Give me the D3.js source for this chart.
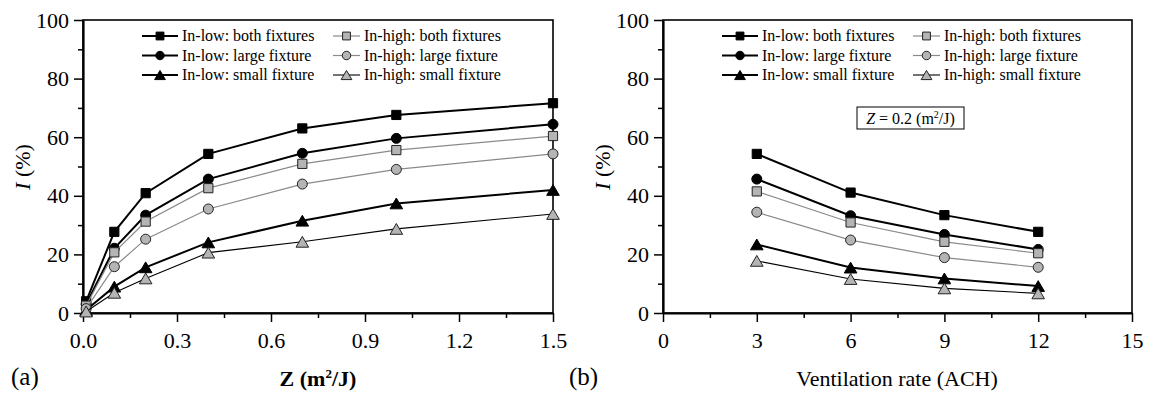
<!DOCTYPE html>
<html>
<head>
<meta charset="utf-8">
<script src="https://cdn.jsdelivr.net/npm/d3@7"></script>
<style>
  body { margin: 0; background: #fff; }
  svg { display: block; font-family: "Liberation Serif", "Times New Roman", serif; }
</style>
</head>
<body>
<script>
// panel (a): I vs Z
const zValues = [0.01, 0.1, 0.2, 0.4, 0.7, 1.0, 1.5];
const zLowBoth = [4.0, 27.7, 40.9, 54.3, 63.0, 67.6, 71.6];
const zLowLarge = [3.0, 22.1, 33.4, 45.7, 54.5, 59.6, 64.4];
const zLowSmall = [1.0, 9.0, 15.6, 24.1, 31.5, 37.4, 42.0];
const zHighBoth = [2.5, 20.7, 31.2, 42.6, 50.9, 55.6, 60.4];
const zHighLarge = [1.5, 15.8, 25.2, 35.5, 44.0, 49.0, 54.3];
const zHighSmall = [0.5, 6.9, 11.8, 20.6, 24.3, 28.7, 33.8];

// panel (b): I vs ventilation rate
const achValues = [3, 6, 9, 12];
const achLowBoth = [54.3, 41.1, 33.4, 27.7];
const achLowLarge = [45.7, 33.2, 26.8, 21.7];
const achLowSmall = [23.4, 15.5, 11.8, 9.2];
const achHighBoth = [41.5, 30.9, 24.3, 20.4];
const achHighLarge = [34.4, 24.9, 18.9, 15.6];
const achHighSmall = [17.8, 11.6, 8.4, 6.7];

const seriesNames = [
  'In-low: both fixtures', 'In-high: both fixtures',
  'In-low: large fixture', 'In-high: large fixture',
  'In-low: small fixture', 'In-high: small fixture'
];

const yTicks = [0, 20, 40, 60, 80, 100];
const yMinor = [10, 30, 50, 70, 90];
const zTicks = [0.0, 0.3, 0.6, 0.9, 1.2, 1.5];
const zMinor = [0.15, 0.45, 0.75, 1.05, 1.35];
const achTicks = [0, 3, 6, 9, 12, 15];
const achMinor = [1.5, 4.5, 7.5, 10.5, 13.5];

const GRAY_FILL = '#b4b4b4';
const GRAY_LINE = '#8a8a8a';

// style per series name
const styles = {
  'In-low: both fixtures':   { shape: 'square',   fill: '#000',    line: '#000',    lw: 2 },
  'In-low: large fixture':   { shape: 'circle',   fill: '#000',    line: '#000',    lw: 2 },
  'In-low: small fixture':   { shape: 'triangle', fill: '#000',    line: '#000',    lw: 2 },
  'In-high: both fixtures':  { shape: 'square',   fill: GRAY_FILL, line: GRAY_LINE, lw: 1.2 },
  'In-high: large fixture':  { shape: 'circle',   fill: GRAY_FILL, line: GRAY_LINE, lw: 1.2 },
  'In-high: small fixture':  { shape: 'triangle', fill: GRAY_FILL, line: '#000',    lw: 1.1 }
};

function marker(shape, k) {
  k = k || 1;
  if (shape === 'square') { const s = 4.6 * k; return `M${-s},${-s}H${s}V${s}H${-s}Z`; }
  if (shape === 'circle') { const r = 5 * k; return `M${r},0A${r},${r} 0 1,1 ${-r},0A${r},${r} 0 1,1 ${r},0Z`; }
  const w = 6.3 * k, h = 5.4 * k;
  return `M0,${-h}L${w},${h}L${-w},${h}Z`;
}

const svg = d3.select('body').append('svg')
  .attr('width', 1149)
  .attr('height', 396);

function drawPanel(p) {
  const x = d3.scaleLinear().domain(p.xDomain).range([p.left, p.right]);
  const y = d3.scaleLinear().domain([0, 100]).range([313, 20]);
  const g = svg.append('g');

  // frame
  g.append('rect')
    .attr('x', p.left).attr('y', 20)
    .attr('width', p.right - p.left).attr('height', 293)
    .attr('fill', 'none').attr('stroke', '#000').attr('stroke-width', 1.6);

  // minor ticks
  g.append('g').attr('transform', `translate(0,313)`)
    .call(d3.axisBottom(x).tickValues(p.xMinor).tickSize(5).tickFormat(''))
    .call(a => a.select('.domain').remove())
    .selectAll('line').attr('stroke-width', 1.5);
  g.append('g').attr('transform', `translate(${p.left},0)`)
    .call(d3.axisLeft(y).tickValues(yMinor).tickSize(5).tickFormat(''))
    .call(a => a.select('.domain').remove())
    .selectAll('line').attr('stroke-width', 1.5);

  // major ticks
  const xa = g.append('g').attr('transform', `translate(0,313)`)
    .call(d3.axisBottom(x).tickValues(p.xTicks).tickSize(9).tickSizeOuter(0).tickPadding(10).tickFormat(p.fmt));
  const ya = g.append('g').attr('transform', `translate(${p.left},0)`)
    .call(d3.axisLeft(y).tickValues(yTicks).tickSize(9).tickSizeOuter(0).tickPadding(5));
  [xa, ya].forEach(a => {
    a.attr('font-family', null);
    a.select('.domain').attr('stroke-width', 2.2);
    a.selectAll('line').attr('stroke-width', 1.5);
    a.selectAll('text').attr('font-size', 22).attr('fill', '#000');
  });

  // series: in-low first, in-high drawn on top
  const line = d3.line().x(d => x(d[0])).y(d => y(d[1]));
  p.series.forEach(s => {
    const st = styles[s.name];
    const pts = p.xValues.map((v, i) => [v, s.values[i]]);
    g.append('path').datum(pts)
      .attr('d', line).attr('fill', 'none')
      .attr('stroke', st.line).attr('stroke-width', st.lw);
    g.selectAll(null).data(pts).enter().append('path')
      .attr('transform', d => `translate(${x(d[0])},${y(d[1])})`)
      .attr('d', marker(st.shape))
      .attr('fill', st.fill)
      .attr('stroke', st.fill === '#000' ? '#000' : '#222')
      .attr('stroke-width', 1);
  });

  // legend (2 columns, 3 rows)
  const lg = g.append('g');
  seriesNames.forEach((name, i) => {
    const st = styles[name];
    const col = i % 2, row = Math.floor(i / 2);
    const cy = 36 + row * 19.5;
    const x0 = p.left + (col === 0 ? 59 : 250);
    const len = col === 0 ? 36 : 27;
    lg.append('line')
      .attr('x1', x0).attr('x2', x0 + len).attr('y1', cy).attr('y2', cy)
      .attr('stroke', st.line).attr('stroke-width', st.lw);
    lg.append('path')
      .attr('transform', `translate(${x0 + len / 2},${cy})`)
      .attr('d', marker(st.shape, 0.85))
      .attr('fill', st.fill)
      .attr('stroke', st.fill === '#000' ? '#000' : '#222')
      .attr('stroke-width', 1);
    lg.append('text')
      .attr('x', x0 + len + 4).attr('y', cy + 5)
      .attr('font-size', 16)
      .text(name);
  });

  // y label
  const yl = g.append('text')
    .attr('transform', `translate(${p.left - 53},167) rotate(-90)`)
    .attr('text-anchor', 'middle').attr('font-size', 22);
  yl.append('tspan').attr('font-style', 'italic').text('I');
  yl.append('tspan').text(' (%)');

  // panel tag
  g.append('text').attr('x', p.tagX).attr('y', 385).attr('font-size', 25).text(p.tag);

  return { g, x, y };
}

const pa = drawPanel({
  left: 83, right: 553, xDomain: [0, 1.5], xValues: zValues,
  xTicks: zTicks, xMinor: zMinor, fmt: d3.format('.1f'), tag: '(a)', tagX: 11,
  series: [
    { name: 'In-low: both fixtures', values: zLowBoth },
    { name: 'In-low: large fixture', values: zLowLarge },
    { name: 'In-low: small fixture', values: zLowSmall },
    { name: 'In-high: both fixtures', values: zHighBoth },
    { name: 'In-high: large fixture', values: zHighLarge },
    { name: 'In-high: small fixture', values: zHighSmall }
  ]
});

const xla = pa.g.append('text')
  .attr('x', 318).attr('y', 386).attr('text-anchor', 'middle')
  .attr('font-size', 22).attr('font-weight', 'bold');
xla.append('tspan').text('Z (m');
xla.append('tspan').attr('font-size', 13).attr('dy', -8).text('2');
xla.append('tspan').attr('dy', 8).text('/J)');

const pb = drawPanel({
  left: 663, right: 1132, xDomain: [0, 15], xValues: achValues,
  xTicks: achTicks, xMinor: achMinor, fmt: d3.format('d'), tag: '(b)', tagX: 569,
  series: [
    { name: 'In-low: both fixtures', values: achLowBoth },
    { name: 'In-low: large fixture', values: achLowLarge },
    { name: 'In-low: small fixture', values: achLowSmall },
    { name: 'In-high: both fixtures', values: achHighBoth },
    { name: 'In-high: large fixture', values: achHighLarge },
    { name: 'In-high: small fixture', values: achHighSmall }
  ]
});

pb.g.append('text')
  .attr('x', 897).attr('y', 386).attr('text-anchor', 'middle')
  .attr('font-size', 22).text('Ventilation rate (ACH)');

// annotation box
pb.g.append('rect')
  .attr('x', 857).attr('y', 107).attr('width', 107).attr('height', 22)
  .attr('fill', '#fff').attr('stroke', '#000').attr('stroke-width', 1);
const ann = pb.g.append('text')
  .attr('x', 910.5).attr('y', 124).attr('text-anchor', 'middle').attr('font-size', 16);
ann.append('tspan').attr('font-style', 'italic').text('Z');
ann.append('tspan').text(' = 0.2 (m');
ann.append('tspan').attr('font-size', 10).attr('dy', -6).text('2');
ann.append('tspan').attr('dy', 6).text('/J)');
</script>
</body>
</html>
